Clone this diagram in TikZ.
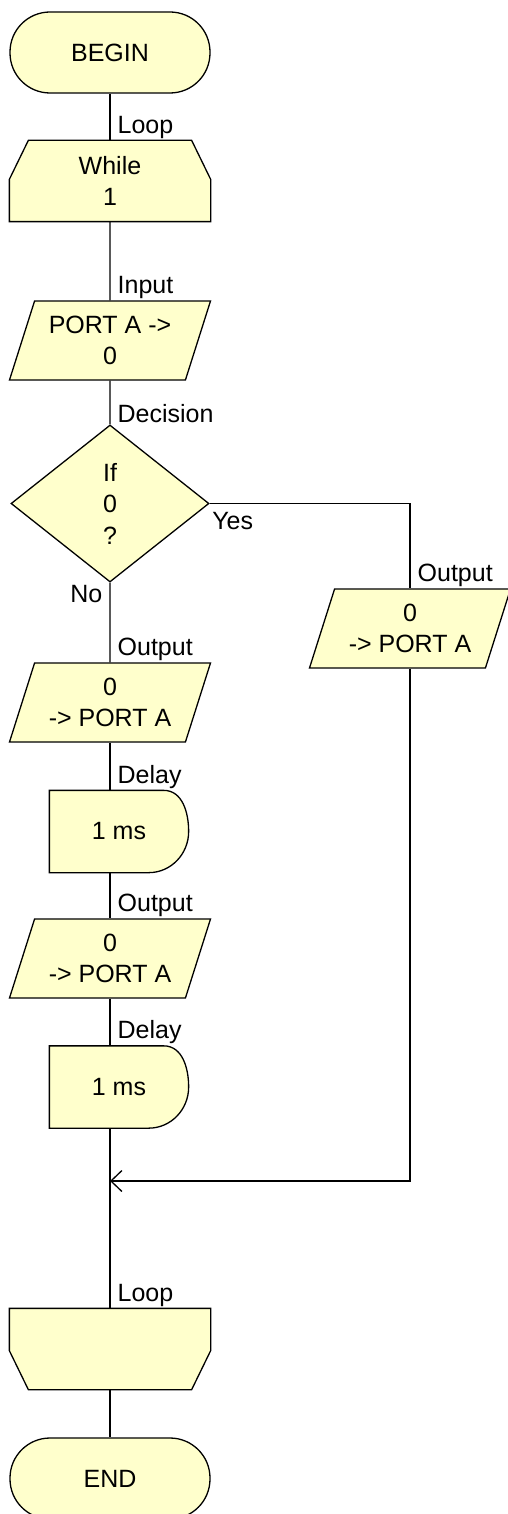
\documentclass[tikz,border=0pt]{standalone}
\usepackage{fontspec}
\setmainfont{Liberation Sans}
\usetikzlibrary{arrows.meta,shapes.geometric,backgrounds}

\definecolor{boxfill}{RGB}{255,255,204}

\begin{document}
\begin{tikzpicture}[x=1pt,y=1pt,line width=1.3pt,
		font=\fontsize{25}{31.5}\selectfont,
		terminal/.style={rectangle,rounded corners=40pt,draw,fill=boxfill,minimum width=200pt,minimum height=81pt,inner sep=0pt},
		io/.style={trapezium,trapezium left angle=63,trapezium right angle=117,trapezium stretches body,draw,fill=boxfill,minimum width=201pt,minimum height=79pt,inner sep=0pt,align=center},
		decision/.style={diamond,draw,fill=boxfill,minimum width=198pt,minimum height=157pt,inner sep=0pt,align=center},
		blank/.style={rectangle,inner sep=0pt,align=center},
		outline/.style={draw,fill=boxfill,line width=1.3pt,line join=miter},
		lbl/.style={anchor=base west,inner sep=0pt,xshift=7pt,yshift=7pt}]
		\useasboundingbox (0,0) rectangle (508,-1514);
		% main column
		\node[terminal] (begin) at (110,-52.5) {BEGIN};
		\node[blank,minimum width=200pt,minimum height=80pt] (while) at (110,-181) {While\\1};
		\node[io] (input) at (110,-340.5) {PORT A ->\\0};
		\node[decision] (dec) at (110,-503.5) {\raisebox{-5pt}{\parbox{30pt}{\centering If\\0\\?}}};
		\node[io] (out1) at (110,-702.5) {0\\-> PORT A};
		\node[blank,minimum width=138pt,minimum height=81pt] (delay1) at (119,-831.5) {1 ms};
		\node[io] (out2) at (110,-958.5) {0\\-> PORT A};
		\node[blank,minimum width=138pt,minimum height=81pt] (delay2) at (119,-1087) {1 ms};
		\node[blank,minimum width=200pt,minimum height=80pt] (loopend) at (110,-1349) {};
		\node[terminal] (end) at (110,-1478.5) {END};
		% yes branch
		\node[io] (outR) at (410,-628.5) {0\\-> PORT A};
		\coordinate (merge) at (110,-1181);

		% outlines of the loop and delay boxes
		\begin{scope}[on background layer]
			\draw[outline] ([yshift=-39pt]while.north west) -- ([xshift=19pt]while.north west) -- ([xshift=-19pt]while.north east) -- ([yshift=-39pt]while.north east) -- (while.south east) -- (while.south west) -- cycle;
			\draw[outline] (loopend.north west) -- (loopend.north east) -- ([yshift=39pt]loopend.south east) -- ([xshift=-19pt]loopend.south east) -- ([xshift=19pt]loopend.south west) -- ([yshift=39pt]loopend.south west) -- cycle;
			\foreach \d in {delay1,delay2}
				\draw[outline] (\d.south west) -- (\d.north west) -- ([xshift=-25pt]\d.north east) to[out=0,in=90] (\d.east) to[out=-90,in=0] ([xshift=-40pt]\d.south east) -- cycle;
		\end{scope}

		\draw (begin.south) -- (while.north) node[lbl] {Loop};
		\draw (while.south) -- (input.north) node[lbl] {Input};
		\draw (input.south) -- (dec.north) node[lbl,yshift=-5pt] {Decision};
		\draw (dec.east) node[anchor=base west,inner sep=0pt,xshift=2pt,yshift=-25.5pt] {Yes} -| (outR.north) node[lbl] {Output};
		\draw (dec.south) node[anchor=base east,inner sep=0pt,xshift=-7pt,yshift=-20pt] {No} -- (out1.north) node[lbl] {Output};
		\draw (out1.south) -- (out1.south |- delay1.north) node[lbl] {Delay};
		\draw (out2.north |- delay1.south) -- (out2.north) node[lbl] {Output};
		\draw (out2.south) -- (out2.south |- delay2.north) node[lbl] {Delay};
		\draw (loopend.north |- delay2.south) -- (loopend.north) node[lbl] {Loop};
		\draw (loopend.south) -- (end.north);
		\draw[-{Straight Barb[length=11pt,width=21pt]}] (outR.south) |- (merge);
	\end{tikzpicture}
\end{document}
